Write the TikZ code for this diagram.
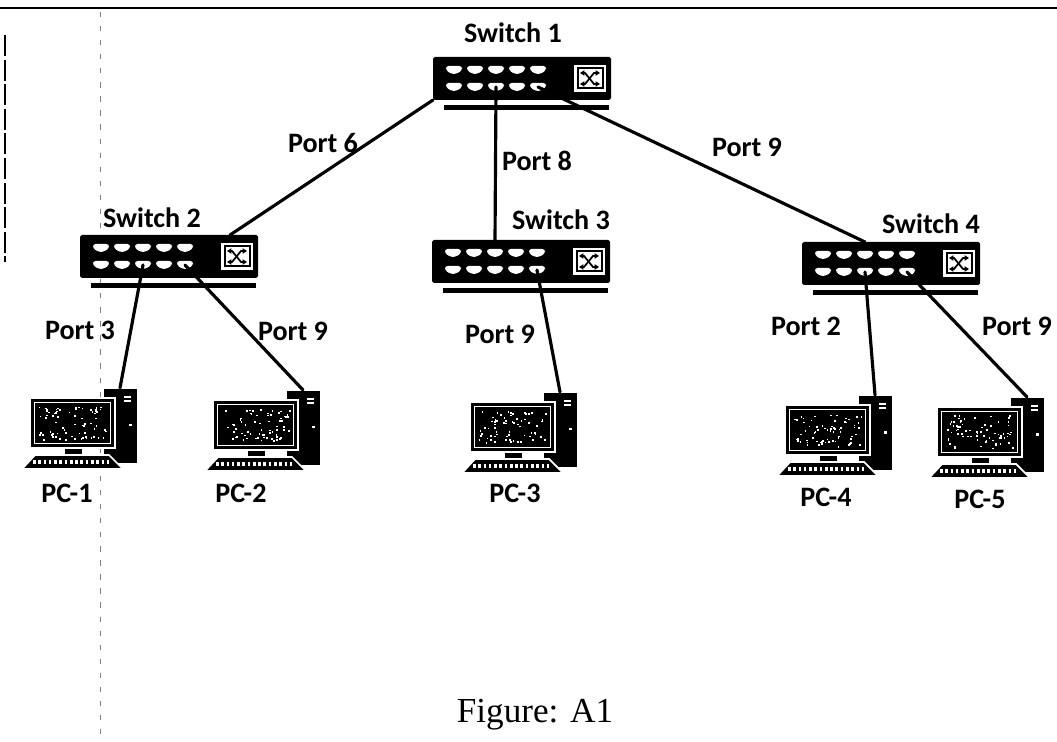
\documentclass[tikz,border=0pt]{standalone}
\usepackage{fontspec}
\setmainfont{Liberation Serif}
\newfontfamily\lblfont{Carlito}
\usetikzlibrary{arrows.meta,calc}
\tikzset{
  lbl/.style={font=\lblfont\bfseries\fontsize{16}{19}\selectfont,inner sep=0pt},
  link/.style={line width=1.8pt,line cap=round},
  switch/.pic={
    \fill[black,rounded corners=1pt] (0,0) rectangle (178,43); %switch body
    \fill[black] (11,48) rectangle (176,53); %base bar
    \foreach \i in {1,...,5}{
      \fill[white,rounded corners=1.5pt,shift={(21*\i,13)}] (-8,-4) -- (8,-4) -- (8,0.5) -- (2,4) -- (-2,4) -- (-8,0.5) -- cycle; %upper port
      \fill[white,rounded corners=1.5pt,shift={(21*\i,30)}] (-8,-4) -- (8,-4) -- (8,0.5) -- (2,4) -- (-2,4) -- (-8,0.5) -- cycle; %lower port
      \coordinate (-p\i) at (21*\i,30);
      \coordinate (-t\i) at (21*\i,0);
    }
    \fill[white] (141,8) rectangle (173,35); %uplink icon
    \fill[black] (143.5,10.5) rectangle (170.5,32.5);
    \fill[white] (145.5,12.5) rectangle (168.5,30.5);
    \draw[black,line width=1pt,{Triangle[length=2.5pt,width=3pt]}-{Triangle[length=2.5pt,width=3pt]}] (147,16) -- (152,16) -- (161,27) -- (167,27);
    \draw[black,line width=1pt,{Triangle[length=2.5pt,width=3pt]}-{Triangle[length=2.5pt,width=3pt]}] (147,27) -- (152,27) -- (161,16) -- (167,16);
    \coordinate (-sw) at (0,43);
    \coordinate (-ti) at (150,0);
  },
  pc/.pic={
    \fill[black,draw=white,line width=1pt] (73,-10) rectangle (108,66); %tower
    \fill[white] (94,-2) rectangle (101,0);
    \fill[white] (94,2) rectangle (101,4); %drive slot
    \fill[white] (99,26) rectangle (101.5,28.5); %power light
    \fill[black,draw=white,line width=1pt] (0,0) rectangle (85,50); %monitor
    \draw[white,line width=0.8pt] (4.5,4.5) rectangle (80.5,45.5); %screen edge
    \foreach \k in {1,...,70}{
      \pgfmathsetmacro{\spx}{8+68*rnd}
      \pgfmathsetmacro{\spy}{8+33*rnd}
      \fill[white] (\spx,\spy) rectangle ++(1.7,1.7);
    }
    \fill[black,draw=white,line width=0.8pt] (34,50) rectangle (53,58); %stand
    \fill[black,draw=white,line width=1pt] (5,57) -- (79,57) -- (93,71) -- (-8,71) -- cycle; %keyboard
    \draw[white,line width=2pt,dash pattern=on 1.5pt off 1.5pt] (3,64) -- (82,64); %keys
    \coordinate (-port) at (90,-10);
  }
}

\begin{document}
\begin{tikzpicture}[x=0.2mm,y=-0.2mm]
  \useasboundingbox (0,0) rectangle (1057,742);
  \pgfmathsetseed{17}
  % page edges
  \draw[line width=1.2pt] (0,8) -- (1057,8);
  \draw[line width=1pt,dash pattern=on 12pt off 2pt] (5,35) -- (5,262);
  \draw[gray,line width=0.5pt,dash pattern=on 3pt off 5pt] (100,12) -- (100,742);

  % switches
  \pic (sw1) at (433,57) {switch};
  \pic (sw2) at (80,235) {switch};
  \pic (sw3) at (432,240) {switch};
  \pic (sw4) at (802,242) {switch};
  \node[lbl] (lsw1) at (513,33) {Switch 1};
  \node[lbl] (lsw2) at (152,218) {Switch 2};
  \node[lbl] (lsw3) at (561,220) {Switch 3};
  \node[lbl] (lsw4) at (931,224) {Switch 4};

  % computers
  \pic (pc1) at (30,398) {pc};
  \pic (pc2) at (213,400) {pc};
  \pic (pc3) at (470,402) {pc};
  \pic (pc4) at (785,405) {pc};
  \pic (pc5) at (937,407) {pc};
  \node[lbl] (lpc1) at (67,493) {PC-1};
  \node[lbl] (lpc2) at (241,493) {PC-2};
  \node[lbl] (lpc3) at (515,493) {PC-3};
  \node[lbl] (lpc4) at (826,497) {PC-4};
  \node[lbl] (lpc5) at (980,499) {PC-5};

  % cables
  \draw[link] (sw1-sw) -- (sw2-ti);
  \draw[link] (sw1-p3) -- (sw3-t3);
  \draw[link] (sw1-p5) -- (sw4-t3);
  \draw[link] (sw2-p3) -- (pc1-port);
  \draw[link] (sw2-p5) -- (pc2-port);
  \draw[link] (sw3-p5) -- (pc3-port);
  \draw[link] (sw4-p3) -- (pc4-port);
  \draw[link] (sw4-p5) -- (pc5-port);

  % port numbers
  \node[lbl] (port6) at (323,143) {Port 6};
  \node[lbl] (port8) at (537,161) {Port 8};
  \node[lbl] (port9a) at (747,147) {Port 9};
  \node[lbl] (port3) at (80,330) {Port 3};
  \node[lbl] (port9b) at (293,331) {Port 9};
  \node[lbl] (port9c) at (500,334) {Port 9};
  \node[lbl] (port2) at (806,326) {Port 2};
  \node[lbl] (port9d) at (1017,326) {Port 9};

  \node[font=\fontsize{20}{23}\selectfont] (caption) at (535,715) {Figure: A1};
\end{tikzpicture}
\end{document}
